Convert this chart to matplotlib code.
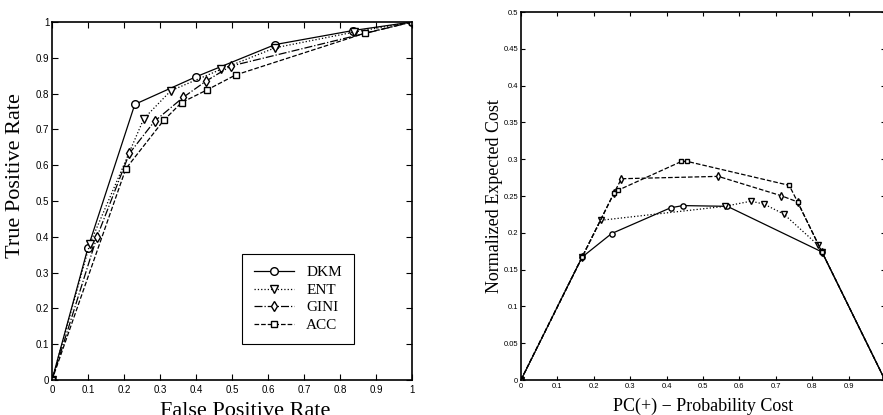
import matplotlib
matplotlib.use('Agg')
import matplotlib.pyplot as plt

# ROC curves (left)
names = ['DKM', 'ENT', 'GINI', 'ACC']
roc_dkm_x = [0, 0.10, 0.23, 0.40, 0.62, 0.835, 1.0]
roc_dkm_y = [0, 0.37, 0.77, 0.847, 0.937, 0.976, 1.0]
roc_ent_x = [0, 0.105, 0.255, 0.33, 0.47, 0.62, 0.84, 1.0]
roc_ent_y = [0, 0.38, 0.73, 0.808, 0.868, 0.928, 0.972, 1.0]
roc_gini_x = [0, 0.125, 0.215, 0.285, 0.365, 0.428, 0.497, 1.0]
roc_gini_y = [0, 0.40, 0.633, 0.723, 0.79, 0.835, 0.877, 1.0]
roc_acc_x = [0, 0.205, 0.31, 0.36, 0.43, 0.51, 0.87, 1.0]
roc_acc_y = [0, 0.59, 0.725, 0.775, 0.81, 0.852, 0.969, 1.0]

# cost curves (right)
cost_dkm_x = [0, 0.168, 0.249, 0.411, 0.445, 0.567, 0.827, 1.0]
cost_dkm_y = [0, 0.167, 0.199, 0.234, 0.237, 0.236, 0.174, 0]
cost_ent_x = [0, 0.168, 0.219, 0.56, 0.632, 0.668, 0.722, 0.817, 0.827, 1.0]
cost_ent_y = [0, 0.167, 0.217, 0.236, 0.243, 0.239, 0.2255, 0.183, 0.174, 0]
cost_gini_x = [0, 0.168, 0.256, 0.276, 0.542, 0.715, 0.760, 0.827, 1.0]
cost_gini_y = [0, 0.167, 0.2545, 0.2735, 0.2767, 0.2504, 0.242, 0.174, 0]
cost_acc_x = [0, 0.168, 0.256, 0.266, 0.441, 0.457, 0.737, 0.760, 0.827, 1.0]
cost_acc_y = [0, 0.167, 0.2545, 0.2577, 0.297, 0.297, 0.2645, 0.242, 0.174, 0]

serif = 'Liberation Serif'
sans = 'Liberation Sans'

fig = plt.figure(figsize=(8.83, 4.15), dpi=100)

ax1 = fig.add_axes([0.0589, 0.0843, 0.4077, 0.8627])
ax1.plot(roc_dkm_x, roc_dkm_y, 'k-', marker='o', ms=5.5, mfc='white', lw=0.9, label='DKM')
ax1.plot(roc_ent_x, roc_ent_y, 'k:', marker='v', ms=5.5, mfc='white', lw=0.9, label='ENT')
ax1.plot(roc_gini_x, roc_gini_y, 'k-.', marker='d', ms=5.5, mfc='white', lw=0.9, label='GINI')
ax1.plot(roc_acc_x, roc_acc_y, 'k--', marker='s', ms=4.5, mfc='white', lw=0.9, label='ACC')
ax1.set_xlim(0, 1)
ax1.set_ylim(0, 1)
ticks = [i / 10 for i in range(11)]
tlabels = ['0'] + ['%.1f' % t for t in ticks[1:-1]] + ['1']
ax1.set_xticks(ticks)
ax1.set_xticklabels(tlabels, fontfamily=sans, fontsize=7)
ax1.set_yticks(ticks)
ax1.set_yticklabels(tlabels, fontfamily=sans, fontsize=7)
ax1.tick_params(direction='in', top=True, right=True, length=4, width=0.8, pad=2)
ax1.tick_params(axis='x', pad=3.5)
# the x label runs off the bottom edge, as in the original
ax1.set_xlabel('False Positive Rate', fontfamily=serif, fontsize=16)
ax1.xaxis.set_label_coords(0.536, -0.062)
ax1.set_ylabel('True Positive Rate', fontfamily=serif, fontsize=16)
ax1.yaxis.set_label_coords(-0.075, 0.57)
leg = ax1.legend(loc='lower right', bbox_to_anchor=(0.839, 0.10), prop={'family': serif, 'size': 11},
                 fancybox=False, edgecolor='black', framealpha=1, handlelength=2.6,
                 borderpad=0.8, labelspacing=0.25, borderaxespad=0)
leg.get_frame().set_linewidth(0.8)
for s in ax1.spines.values():
    s.set_linewidth(1.2)

ax2 = fig.add_axes([0.590, 0.0843, 0.4122, 0.8867])
ax2.plot(cost_dkm_x, cost_dkm_y, 'k-', marker='o', ms=3.8, mfc='white', lw=0.9)
ax2.plot(cost_ent_x, cost_ent_y, 'k:', marker='v', ms=4.2, mfc='white', lw=0.9)
ax2.plot(cost_gini_x, cost_gini_y, 'k--', marker='d', ms=4.0, mfc='white', lw=0.9)
ax2.plot(cost_acc_x, cost_acc_y, 'k--', marker='s', ms=3.5, mfc='white', lw=0.9)
ax2.set_xlim(0, 1)
ax2.set_ylim(0, 0.5)
ax2.set_xticks(ticks)
# the "1" at the right end falls outside the picture in the original
ax2.set_xticklabels(tlabels[:-1] + [''], fontfamily=sans, fontsize=5.5)
yt = [i * 0.05 for i in range(11)]
ytl = ['0'] + ['%g' % round(v, 2) for v in yt[1:]]
ax2.set_yticks(yt)
ax2.set_yticklabels(ytl, fontfamily=sans, fontsize=5.5)
ax2.tick_params(direction='in', top=True, right=True, length=3, width=0.8, pad=2)
ax2.set_xlabel('PC(+) \u2212 Probability Cost', fontfamily=serif, fontsize=13, labelpad=6)
ax2.set_ylabel('Normalized Expected Cost', fontfamily=serif, fontsize=13, labelpad=0)
for s in ax2.spines.values():
    s.set_linewidth(1.2)

fig.savefig('out.png', dpi=100)
